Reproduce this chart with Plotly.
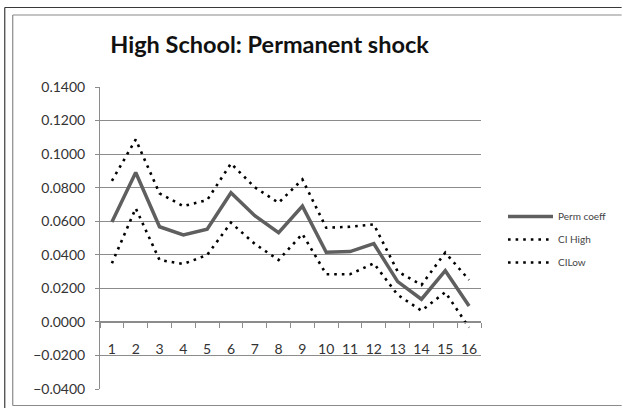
import plotly.graph_objects as go

categories = [str(i) for i in range(1, 17)]
perm_coeff = [0.0595, 0.0890, 0.0567, 0.0518, 0.0552, 0.0770, 0.0633, 0.0532,
              0.0690, 0.0415, 0.0419, 0.0466, 0.0240, 0.0135, 0.0305, 0.0095]
ci_high = [0.0841, 0.1087, 0.0766, 0.0690, 0.0726, 0.0944, 0.0802, 0.0710,
           0.0849, 0.0561, 0.0567, 0.0581, 0.0300, 0.0220, 0.0413, 0.0250]
ci_low = [0.0349, 0.0677, 0.0369, 0.0345, 0.0399, 0.0591, 0.0465, 0.0369,
          0.0524, 0.0284, 0.0284, 0.0349, 0.0161, 0.0067, 0.0177, -0.0034]
series_names = ["Perm coeff", "CI High", "CILow"]
y_ticks = [-0.04, -0.02, 0.0, 0.02, 0.04, 0.06, 0.08, 0.10, 0.12, 0.14]

W, H = 623, 408
L, R, T, B = 100, 482, 87, 389


def px(x):
    return (x - L) / (R - L)


def py(y):
    return (B - y) / (B - T)


fig = go.Figure()
fig.add_trace(go.Scatter(x=categories, y=perm_coeff, name=series_names[0], mode="lines",
                         legendgroup="a", line=dict(color="#5f5f5f", width=3.5)))
fig.add_trace(go.Scatter(x=categories, y=ci_high, name=series_names[1], mode="lines",
                         legendgroup="b", line=dict(color="#000000", width=2.6, dash="2.6px,5px")))
fig.add_trace(go.Scatter(x=categories, y=ci_low, name=series_names[2], mode="lines",
                         legendgroup="c", line=dict(color="#000000", width=2.6, dash="2.6px,5px")))

shapes = [
    # outer dark frame
    dict(type="line", xref="paper", yref="paper", x0=px(4.5), x1=px(4.5), y0=py(7.5), y1=py(408), line=dict(color="#3a3a3a", width=1.2)),
    dict(type="line", xref="paper", yref="paper", x0=px(4.5), x1=px(623), y0=py(7.5), y1=py(7.5), line=dict(color="#3a3a3a", width=1.2)),
    # inner gray frame
    dict(type="line", xref="paper", yref="paper", x0=px(12.5), x1=px(12.5), y0=py(15), y1=py(405.5), line=dict(color="#8a8a8a", width=1.2)),
    dict(type="line", xref="paper", yref="paper", x0=px(12.5), x1=px(623), y0=py(15), y1=py(15), line=dict(color="#8a8a8a", width=1.2)),
    dict(type="line", xref="paper", yref="paper", x0=px(12.5), x1=px(623), y0=py(405.5), y1=py(405.5), line=dict(color="#8a8a8a", width=1.2)),
]

fig.update_layout(
    width=W, height=H,
    margin=dict(l=L, r=W - R, t=T, b=H - B, pad=0),
    paper_bgcolor="white", plot_bgcolor="white",
    font=dict(family="Lato, 'Open Sans', sans-serif", color="#333333", size=13),
    title=dict(text="<b>High School: Permanent shock</b>", x=px(270), xref="paper", xanchor="center",
               y=1 - 45 / H, yref="container", yanchor="middle",
               font=dict(family="Lato, 'Open Sans', sans-serif", size=23.5, color="#111111")),
    showlegend=True,
    legend=dict(x=px(503), y=py(202), xanchor="left", yanchor="top", bgcolor="rgba(0,0,0,0)",
                font=dict(size=10, color="#444444"), itemwidth=45, tracegroupgap=4),
    shapes=shapes,
    xaxis=dict(type="category", range=[-0.5, 15.5], anchor="free",
               position=(0 - y_ticks[0]) / (y_ticks[-1] - y_ticks[0]),
               showgrid=False, zeroline=False, showline=True, linecolor="#8c8c8c", linewidth=1,
               ticks="outside", ticklen=5, tickcolor="#8c8c8c", tickson="boundaries",
               tickangle=0, ticklabelstandoff=14, tickfont=dict(size=14, color="#333333")),
    yaxis=dict(range=[y_ticks[0], y_ticks[-1]], tickvals=y_ticks, tickformat=".4f",
               showgrid=True, gridcolor="#8c8c8c", gridwidth=1, zeroline=False,
               showline=True, linecolor="#8c8c8c", linewidth=1,
               ticks="outside", ticklen=4, tickcolor="#8c8c8c", ticklabelstandoff=7,
               tickfont=dict(size=14, color="#333333")),
)

fig.write_html("out.html", config={"displayModeBar": False},
               post_script="document.body.style.margin='0';document.body.style.overflow='hidden';document.documentElement.style.overflow='hidden';")
